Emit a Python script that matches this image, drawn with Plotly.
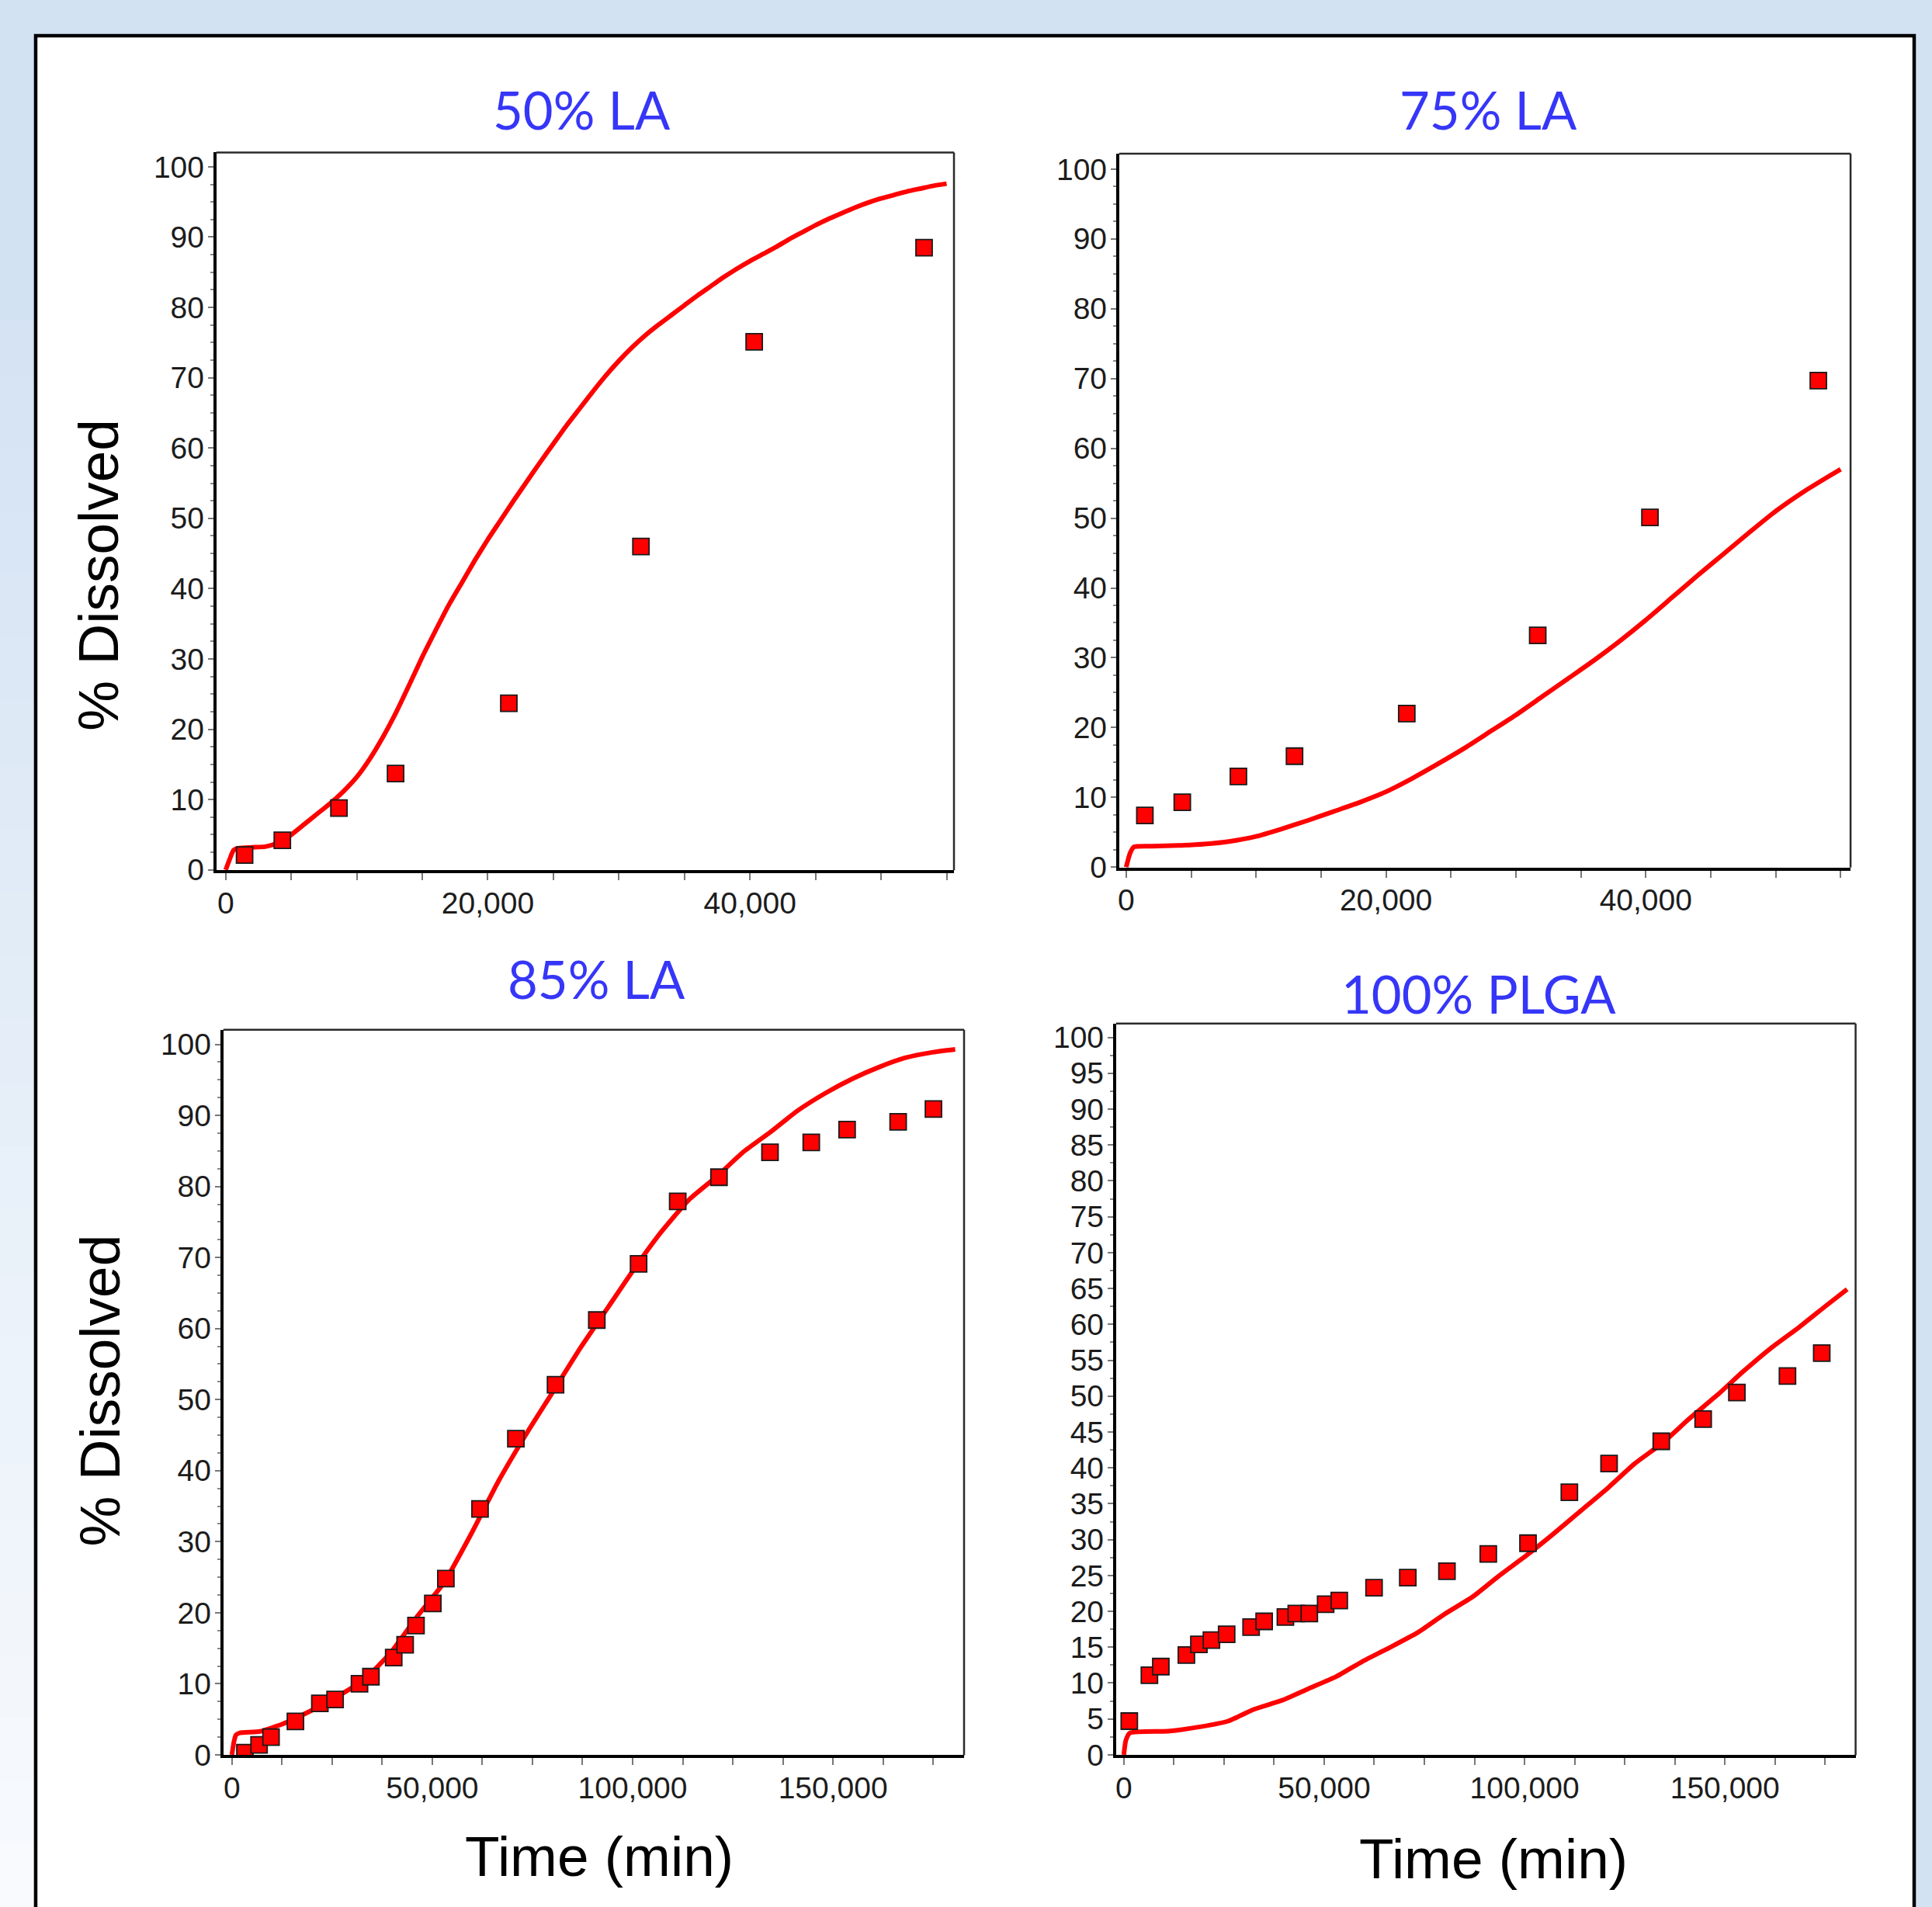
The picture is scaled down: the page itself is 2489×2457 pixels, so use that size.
import plotly.graph_objects as go

W, H = 2489, 2457  # design size (the figure fills the browser window)
K = 0.9905         # measured vertical scale of the photographed page

# ---------------- data ----------------
panel_titles = ["50% LA", "75% LA", "85% LA", "100% PLGA"]
y_title = "% Dissolved"
x_title = "Time (min)"

# 50% LA
tl_obs_t = [1440, 4320, 8640, 12960, 21600, 31680, 40320, 53280]
tl_obs_y = [2.1, 4.2, 8.8, 13.7, 23.7, 46.0, 75.1, 88.5]
tl_fit_t = [0, 300, 600, 1000, 2000, 3000, 4000, 5000, 6000, 7000, 8000, 9000,
            10000, 11000, 12000, 13000, 14000, 15000, 16000, 17000, 18000, 19000,
            20000, 21000, 22000, 23000, 24000, 25000, 26000, 27000, 28000, 29000,
            30000, 31000, 32000, 33000, 34000, 35000, 36000, 37000, 38000, 39000,
            40000, 41000, 42000, 43000, 44000, 45000, 46000, 47000, 48000, 49000,
            50000, 51000, 52000, 53000, 54000, 55000]
tl_fit_y = [0, 1.5, 2.8, 3.1, 3.2, 3.3, 3.8, 5.0, 6.5, 8.0, 9.5, 11.2,
            13.2, 15.8, 18.9, 22.4, 26.3, 30.3, 34.0, 37.6, 40.8, 44.0,
            47.0, 49.8, 52.6, 55.3, 58.0, 60.6, 63.2, 65.6, 68.0, 70.3,
            72.4, 74.3, 76.0, 77.5, 78.9, 80.3, 81.7, 83.0, 84.3, 85.5,
            86.6, 87.6, 88.6, 89.7, 90.7, 91.7, 92.6, 93.4, 94.2, 94.9,
            95.5, 96.0, 96.5, 96.9, 97.3, 97.6]

# 75% LA
tr_obs_t = [1440, 4320, 8640, 12960, 21600, 31680, 40320, 53280]
tr_obs_y = [7.4, 9.3, 13.0, 15.9, 22.0, 33.2, 50.1, 69.7]
tr_fit_t = [0, 300, 600, 2000, 4000, 6000, 8000, 10000, 12000, 14000, 16000, 18000,
            20000, 22000, 24000, 26000, 28000, 30000, 32000, 34000, 36000, 38000,
            40000, 42000, 44000, 46000, 48000, 50000, 52000, 54000, 55000]
tr_fit_y = [0, 2.0, 2.9, 3.0, 3.1, 3.3, 3.7, 4.4, 5.5, 6.7, 8.0, 9.3,
            10.8, 12.7, 14.8, 17.0, 19.4, 21.8, 24.4, 27.0, 29.6, 32.4,
            35.4, 38.6, 41.8, 44.9, 48.0, 51.0, 53.6, 55.9, 57.0]

# 85% LA
bl_obs_t = [3250, 6780, 9760, 15850, 21950, 25750, 31840, 34690, 40380, 43230,
            45940, 50140, 53390, 61920, 70870, 80760, 91060, 101490, 111250,
            121550, 134280, 144580, 153520, 166260, 175070]
bl_obs_y = [0.3, 1.4, 2.5, 4.7, 7.25, 7.8, 10.0, 11.0, 13.7, 15.5,
            18.2, 21.3, 24.8, 34.6, 44.5, 52.1, 61.2, 69.1, 77.9,
            81.3, 84.8, 86.2, 88.0, 89.1, 90.9]
bl_fit_t = [0, 500, 1000, 2000, 7000, 12500, 19000, 26000, 33000, 39500, 46000,
            53000, 60000, 66500, 73500, 80000, 87000, 94000, 100500, 107000,
            114000, 121000, 127500, 134500, 141000, 148000, 155000, 161500,
            168000, 175000, 180500]
bl_fit_y = [0, 1.8, 2.8, 3.1, 3.3, 4.3, 6.0, 8.1, 10.6, 14.3, 19.3,
            24.3, 31.4, 38.5, 45.2, 51.0, 57.3, 63.1, 68.5, 73.5,
            78.1, 81.4, 84.8, 87.7, 90.6, 93.1, 95.2, 96.8,
            98.1, 98.9, 99.3]

# 100% PLGA
br_obs_t = [1360, 6380, 9230, 15610, 18730, 21860, 25660, 31760, 35020, 40320,
            43030, 46290, 50360, 53760, 62440, 70860, 80630, 90950, 100860,
            111180, 121090, 134120, 144570, 152990, 165610, 174160]
br_obs_y = [4.7, 11.1, 12.3, 13.9, 15.4, 16.0, 16.8, 17.8, 18.6, 19.2,
            19.7, 19.7, 21.0, 21.5, 23.3, 24.7, 25.6, 28.0, 29.5,
            36.6, 40.6, 43.7, 46.8, 50.5, 52.8, 56.0]
br_fit_t = [0, 500, 1500, 11000, 19000, 26000, 32500, 39500, 46000, 53000, 59500,
            66500, 73500, 80000, 87000, 93500, 100500, 107000, 114000, 121000,
            127500, 134500, 141000, 148000, 154500, 161500, 168500, 175000, 180500]
br_fit_y = [0, 2.0, 3.05, 3.3, 3.9, 4.7, 6.35, 7.6, 9.2, 10.9, 13.0,
            15.0, 17.1, 19.6, 22.0, 24.9, 27.8, 30.7, 34.0, 37.3,
            40.6, 43.5, 46.8, 50.1, 53.4, 56.7, 59.6, 62.5, 64.9]

# ---------------- layout geometry (design pixels) ----------------
panels = [
    dict(L=275, R=1228, T=193.5, B=1120.5, xa=(289, 0), xb=(965, 40000),
         ya=(1121, 0), yb=(212, 100), xmaj=20000, xmin=5000, ymaj=10,
         obs=(tl_obs_t, tl_obs_y), fit=(tl_fit_t, tl_fit_y),
         title=(748, 138)),
    dict(L=1439, R=2384, T=195, B=1117, xa=(1450, 0), xb=(2120, 40000),
         ya=(1117, 0), yb=(215, 100), xmaj=20000, xmin=5000, ymaj=10,
         obs=(tr_obs_t, tr_obs_y), fit=(tr_fit_t, tr_fit_y),
         title=(1917, 138)),
    dict(L=284, R=1241, T=1324, B=2261, xa=(297, 0), xb=(1072, 150000),
         ya=(2261, 0), yb=(1343, 100), xmaj=50000, xmin=12500, ymaj=10,
         obs=(bl_obs_t, bl_obs_y), fit=(bl_fit_t, bl_fit_y),
         title=(767, 1258)),
    dict(L=1435, R=2390.5, T=1316, B=2261, xa=(1447, 0), xb=(2222, 150000),
         ya=(2260, 0), yb=(1334, 100), xmaj=50000, xmin=12500, ymaj=5,
         obs=(br_obs_t, br_obs_y), fit=(br_fit_t, br_fit_y),
         title=(1905, 1277)),
]


def px(x):
    return x / W


def py(y):
    return 1 - y / (H * K)


RED = "#FF0000"
TICKFONT = dict(family="Liberation Sans, Arial, sans-serif", size=39, color="#1c1c1c")
BLUE = "#3636F8"
BG = "rgb(211,226,243)"

fig = go.Figure()
shapes = []
annotations = []

AXLW = 4  # left / bottom axis line width

for i, p in enumerate(panels):
    n = "" if i == 0 else str(i + 1)
    xname, yname = "x" + n, "y" + n
    dl, dr = p["L"] + AXLW / 2, p["R"]
    dt, db = p["T"], p["B"] - AXLW / 2
    (xpa, xva), (xpb, xvb) = p["xa"], p["xb"]
    sx = (xvb - xva) / (xpb - xpa)
    xr = [xva + (dl - xpa) * sx, xva + (dr - xpa) * sx]
    (ypa, yva), (ypb, yvb) = p["ya"], p["yb"]
    sy = (yvb - yva) / (ypb - ypa)
    yr = [yva + (db - ypa) * sy, yva + (dt - ypa) * sy]
    yr[0] = min(yr[0], -0.05)

    fig.add_trace(go.Scatter(x=p["fit"][0], y=p["fit"][1], mode="lines",
                             line=dict(color=RED, width=6, shape="spline",
                                       smoothing=0.5),
                             xaxis=xname, yaxis=yname, showlegend=False,
                             hoverinfo="skip"))
    fig.add_trace(go.Scatter(x=p["obs"][0], y=p["obs"][1], mode="markers",
                             marker=dict(symbol="square", size=21, color=RED,
                                         line=dict(color="#1a1a1a", width=1.8)),
                             xaxis=xname, yaxis=yname, showlegend=False))

    xa_key = "xaxis" + n
    ya_key = "yaxis" + n
    fig.update_layout(**{
        xa_key: dict(domain=[px(dl), px(dr)], range=xr, anchor=yname,
                     showgrid=False, zeroline=False, showline=True,
                     linecolor="black", linewidth=AXLW, mirror=False,
                     ticks="outside", ticklen=9, tickwidth=2, tickcolor="#777",
                     dtick=p["xmaj"], tick0=0, tickformat=",d",
                     tickfont=TICKFONT, ticklabelstandoff=-4,
                     minor=dict(dtick=p["xmin"], tick0=0, ticks="outside",
                                ticklen=9, tickwidth=2, tickcolor="#777",
                                showgrid=False),
                     fixedrange=True),
        ya_key: dict(domain=[py(db), py(dt)], range=yr, anchor=xname,
                     showgrid=False, zeroline=False, showline=True,
                     linecolor="black", linewidth=AXLW, mirror=False,
                     ticks="outside", ticklen=7, tickwidth=2, tickcolor="#777",
                     dtick=p["ymaj"], tick0=0,
                     tickfont=TICKFONT, ticklabelstandoff=-3,
                     minor=dict(dtick=2.5, tick0=0, ticks="outside",
                                ticklen=4, tickwidth=2, tickcolor="#888",
                                showgrid=False),
                     fixedrange=True),
    })
    shapes.append(dict(type="line", xref=xname + " domain", yref=yname + " domain",
                       x0=0, x1=1, y0=1, y1=1, line=dict(color="#2a2a2a", width=2.5)))
    shapes.append(dict(type="line", xref=xname + " domain", yref=yname + " domain",
                       x0=1, x1=1, y0=0, y1=1, line=dict(color="#2a2a2a", width=2.5)))
    tx, ty = p["title"]
    annotations.append(dict(text=panel_titles[i], x=px(tx), y=py(ty),
                            xref="paper", yref="paper", showarrow=False,
                            xanchor="center", yanchor="middle",
                            font=dict(family="Lato, Open Sans, sans-serif",
                                      size=67, color=BLUE)))

for (cx, cy) in [(125, 738), (127, 1789)]:
    annotations.append(dict(text=y_title, x=px(cx), y=py(cy), xref="paper",
                            yref="paper", showarrow=False, textangle=-90,
                            xanchor="center", yanchor="middle",
                            font=dict(family="Liberation Sans, Arial, sans-serif",
                                      size=73, color="black")))
for (cx, cy) in [(771, 2389), (1924, 2392)]:
    annotations.append(dict(text=x_title, x=px(cx), y=py(cy), xref="paper",
                            yref="paper", showarrow=False,
                            xanchor="center", yanchor="middle",
                            font=dict(family="Liberation Sans, Arial, sans-serif",
                                      size=73, color="black")))

# background: light-blue page with a gradient on the left strip, white panel
bg_blue = (211, 226, 243)
bands = 30
for k in range(bands):
    y0 = k * H / bands
    y1 = (k + 1) * H / bands
    f = max(0.0, ((y0 + y1) / 2 - 350) / (H - 350)) * 0.85
    c = tuple(int(round(bg_blue[j] * (1 - f) + 255 * f)) for j in range(3))
    shapes.append(dict(type="rect", xref="paper", yref="paper", layer="below",
                       x0=px(-20), x1=px(60), y0=py(y1 + 30), y1=py(y0),
                       fillcolor="rgb(%d,%d,%d)" % c, line=dict(width=0)))
shapes.append(dict(type="rect", xref="paper", yref="paper", layer="below",
                   x0=px(44), x1=px(2466), y0=py(2520), y1=py(43),
                   fillcolor="white", line=dict(color="black", width=4.5)))

fig.update_layout(autosize=True,
                  margin=dict(l=0, r=0, t=0, b=0, pad=0),
                  paper_bgcolor=BG, plot_bgcolor="white",
                  shapes=shapes, annotations=annotations, showlegend=False)

# page background continues the panel (left strip, border, white, border, blue)
page_bg = ("linear-gradient(to right, rgb(244,247,252) 0px, rgb(244,247,252) 42px, "
           "black 42px, black 46px, white 46px, white 2464px, black 2464px, "
           "black 2468px, rgb(211,226,243) 2468px)")

# the figure fills the whole browser window
fig.write_html("out.html", default_width="100vw", default_height="100vh",
               config={"displayModeBar": False},
               post_script="document.documentElement.style.margin='0';"
                           "document.body.style.margin='0';"
                           "document.documentElement.style.background='%s';"
                           "document.body.style.background='%s';" % (page_bg, page_bg))
